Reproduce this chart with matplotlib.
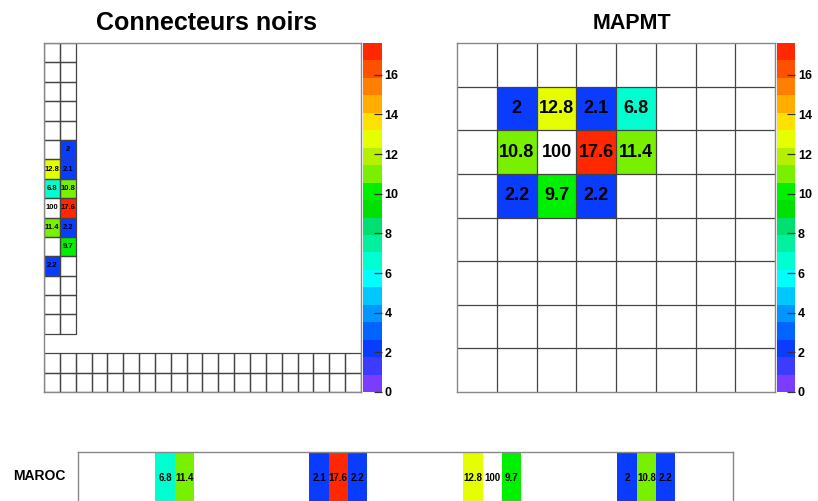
import matplotlib
matplotlib.use('Agg')
import matplotlib.pyplot as plt
import numpy as np
from matplotlib.colors import ListedColormap, Normalize
from matplotlib.cm import ScalarMappable
from matplotlib.patches import Rectangle

plt.rcParams['font.family'] = ['Liberation Sans', 'DejaVu Sans']
plt.rcParams['font.weight'] = 'bold'

nan = np.nan

# 20 level rainbow palette, 0 -> 17.6
palette = ['#7a3cff', '#3c3cff', '#0a3cff', '#0064ff', '#0096ff', '#00c8ff',
           '#00ffff', '#00ffd0', '#00f0a0', '#00e070', '#00e000', '#00f000',
           '#78f000', '#b4f000', '#e6ff00', '#ffe000', '#ffae00', '#ff8000',
           '#ff5000', '#ff2800']
zmin, zmax = 0, 17.6
cbar_ticks = [0, 2, 4, 6, 8, 10, 12, 14, 16]

# Connecteurs noirs : vertical connector, 2 columns x 15 rows (top -> bottom)
vert_col0 = [nan]*6 + [12.8, 6.8, 100, 11.4, nan, 2.2, nan, nan, nan]
vert_col1 = [nan]*5 + [2, 2.1, 10.8, 17.6, 2.2, 9.7] + [nan]*4
# horizontal connector, 2 rows x 20 columns, empty
horiz_rows, horiz_cols = 2, 20
left_nx, left_ny = 20, 18

# MAPMT 8x8 (top -> bottom)
mapmt = [
    [nan]*8,
    [nan, 2, 12.8, 2.1, 6.8, nan, nan, nan],
    [nan, 10.8, 100, 17.6, 11.4, nan, nan, nan],
    [nan, 2.2, 9.7, 2.2, nan, nan, nan, nan],
    [nan]*8,
    [nan]*8,
    [nan]*8,
    [nan]*8,
]

# MAROC channels
maroc = [nan]*34
maroc_hits = {4: 6.8, 5: 11.4, 12: 2.1, 13: 17.6, 14: 2.2,
              20: 12.8, 21: 100, 22: 9.7, 28: 2, 29: 10.8, 30: 2.2}
for k, v in maroc_hits.items():
    maroc[k] = v

cmap = ListedColormap(palette)
cmap.set_over('white')
cmap.set_bad((0, 0, 0, 0))
norm = Normalize(zmin, zmax)

W, H = 818, 501
fig = plt.figure(figsize=(W/100, H/100), dpi=100)


def px(x0, y0, x1, y1):
    return [x0/W, 1 - y1/H, (x1 - x0)/W, (y1 - y0)/H]


grid_col = '#444444'
frame_col = '#888888'


def style(ax):
    ax.set_xticks([])
    ax.set_yticks([])
    for s in ax.spines.values():
        s.set_color(frame_col)
        s.set_linewidth(1.0)


def put_text(ax, Z, size):
    for j in range(Z.shape[0]):
        for i in range(Z.shape[1]):
            v = Z[j, i]
            if not np.isnan(v):
                ax.text(i + 0.5, j + 0.5, f'{v:g}', ha='center', va='center',
                        fontsize=size, fontweight='bold', color='black')


def add_cbar(cax):
    sm = ScalarMappable(norm=norm, cmap=cmap)
    cb = fig.colorbar(sm, cax=cax, ticks=cbar_ticks)
    cb.outline.set_visible(False)
    cax.tick_params(direction='in', length=6, width=0.9, color='#333333',
                    pad=2, labelsize=9)
    for t in cax.get_yticklabels():
        t.set_fontweight('bold')


# ---- Connecteurs noirs
ax1 = fig.add_axes(px(44, 43, 361, 392))
Z1 = np.full((left_ny, left_nx), nan)
for i in range(15):
    Z1[left_ny - 1 - i, 0] = vert_col0[i]
    Z1[left_ny - 1 - i, 1] = vert_col1[i]
ax1.pcolormesh(np.arange(left_nx + 1), np.arange(left_ny + 1),
               np.ma.masked_invalid(Z1), cmap=cmap, norm=norm)
for i in range(15):
    for c in range(2):
        ax1.add_patch(Rectangle((c, left_ny - 1 - i), 1, 1, fill=False,
                                edgecolor=grid_col, lw=0.9))
for r in range(horiz_rows):
    for c in range(horiz_cols):
        ax1.add_patch(Rectangle((c, r), 1, 1, fill=False,
                                edgecolor=grid_col, lw=0.9))
put_text(ax1, Z1, 5.5)
ax1.set_xlim(0, left_nx)
ax1.set_ylim(0, left_ny)
style(ax1)
add_cbar(fig.add_axes(px(363.3, 43, 381.7, 392)))
fig.text(206.7/W, 1 - 30/H, 'Connecteurs noirs', ha='center', va='baseline',
         fontsize=18, fontweight='bold')

# ---- MAPMT
ax2 = fig.add_axes(px(457.3, 43, 775, 392))
Z2 = np.array(mapmt)[::-1]
ax2.pcolormesh(np.arange(9), np.arange(9), np.ma.masked_invalid(Z2),
               cmap=cmap, norm=norm)
ax2.vlines(np.arange(1, 8), 0, 8, color=grid_col, lw=0.9)
ax2.hlines(np.arange(1, 8), 0, 8, color=grid_col, lw=0.9)
put_text(ax2, Z2, 13)
ax2.set_xlim(0, 8)
ax2.set_ylim(0, 8)
style(ax2)
add_cbar(fig.add_axes(px(776.7, 43, 795, 392)))
fig.text(632/W, 1 - 29.3/H, 'MAPMT', ha='center', va='baseline',
         fontsize=15.5, fontweight='bold')

# ---- MAROC
ax3 = fig.add_axes(px(78.3, 452.3, 733, 503))
Z3 = np.array([maroc])
ax3.pcolormesh(np.arange(35), np.arange(2), np.ma.masked_invalid(Z3),
               cmap=cmap, norm=norm)
put_text(ax3, Z3, 7)
ax3.set_xlim(0, 34)
ax3.set_ylim(0, 1)
style(ax3)
fig.text(39.7/W, 1 - 480/H, 'MAROC', ha='center', va='baseline',
         fontsize=10, fontweight='bold')

fig.savefig('out.png', dpi=100)
